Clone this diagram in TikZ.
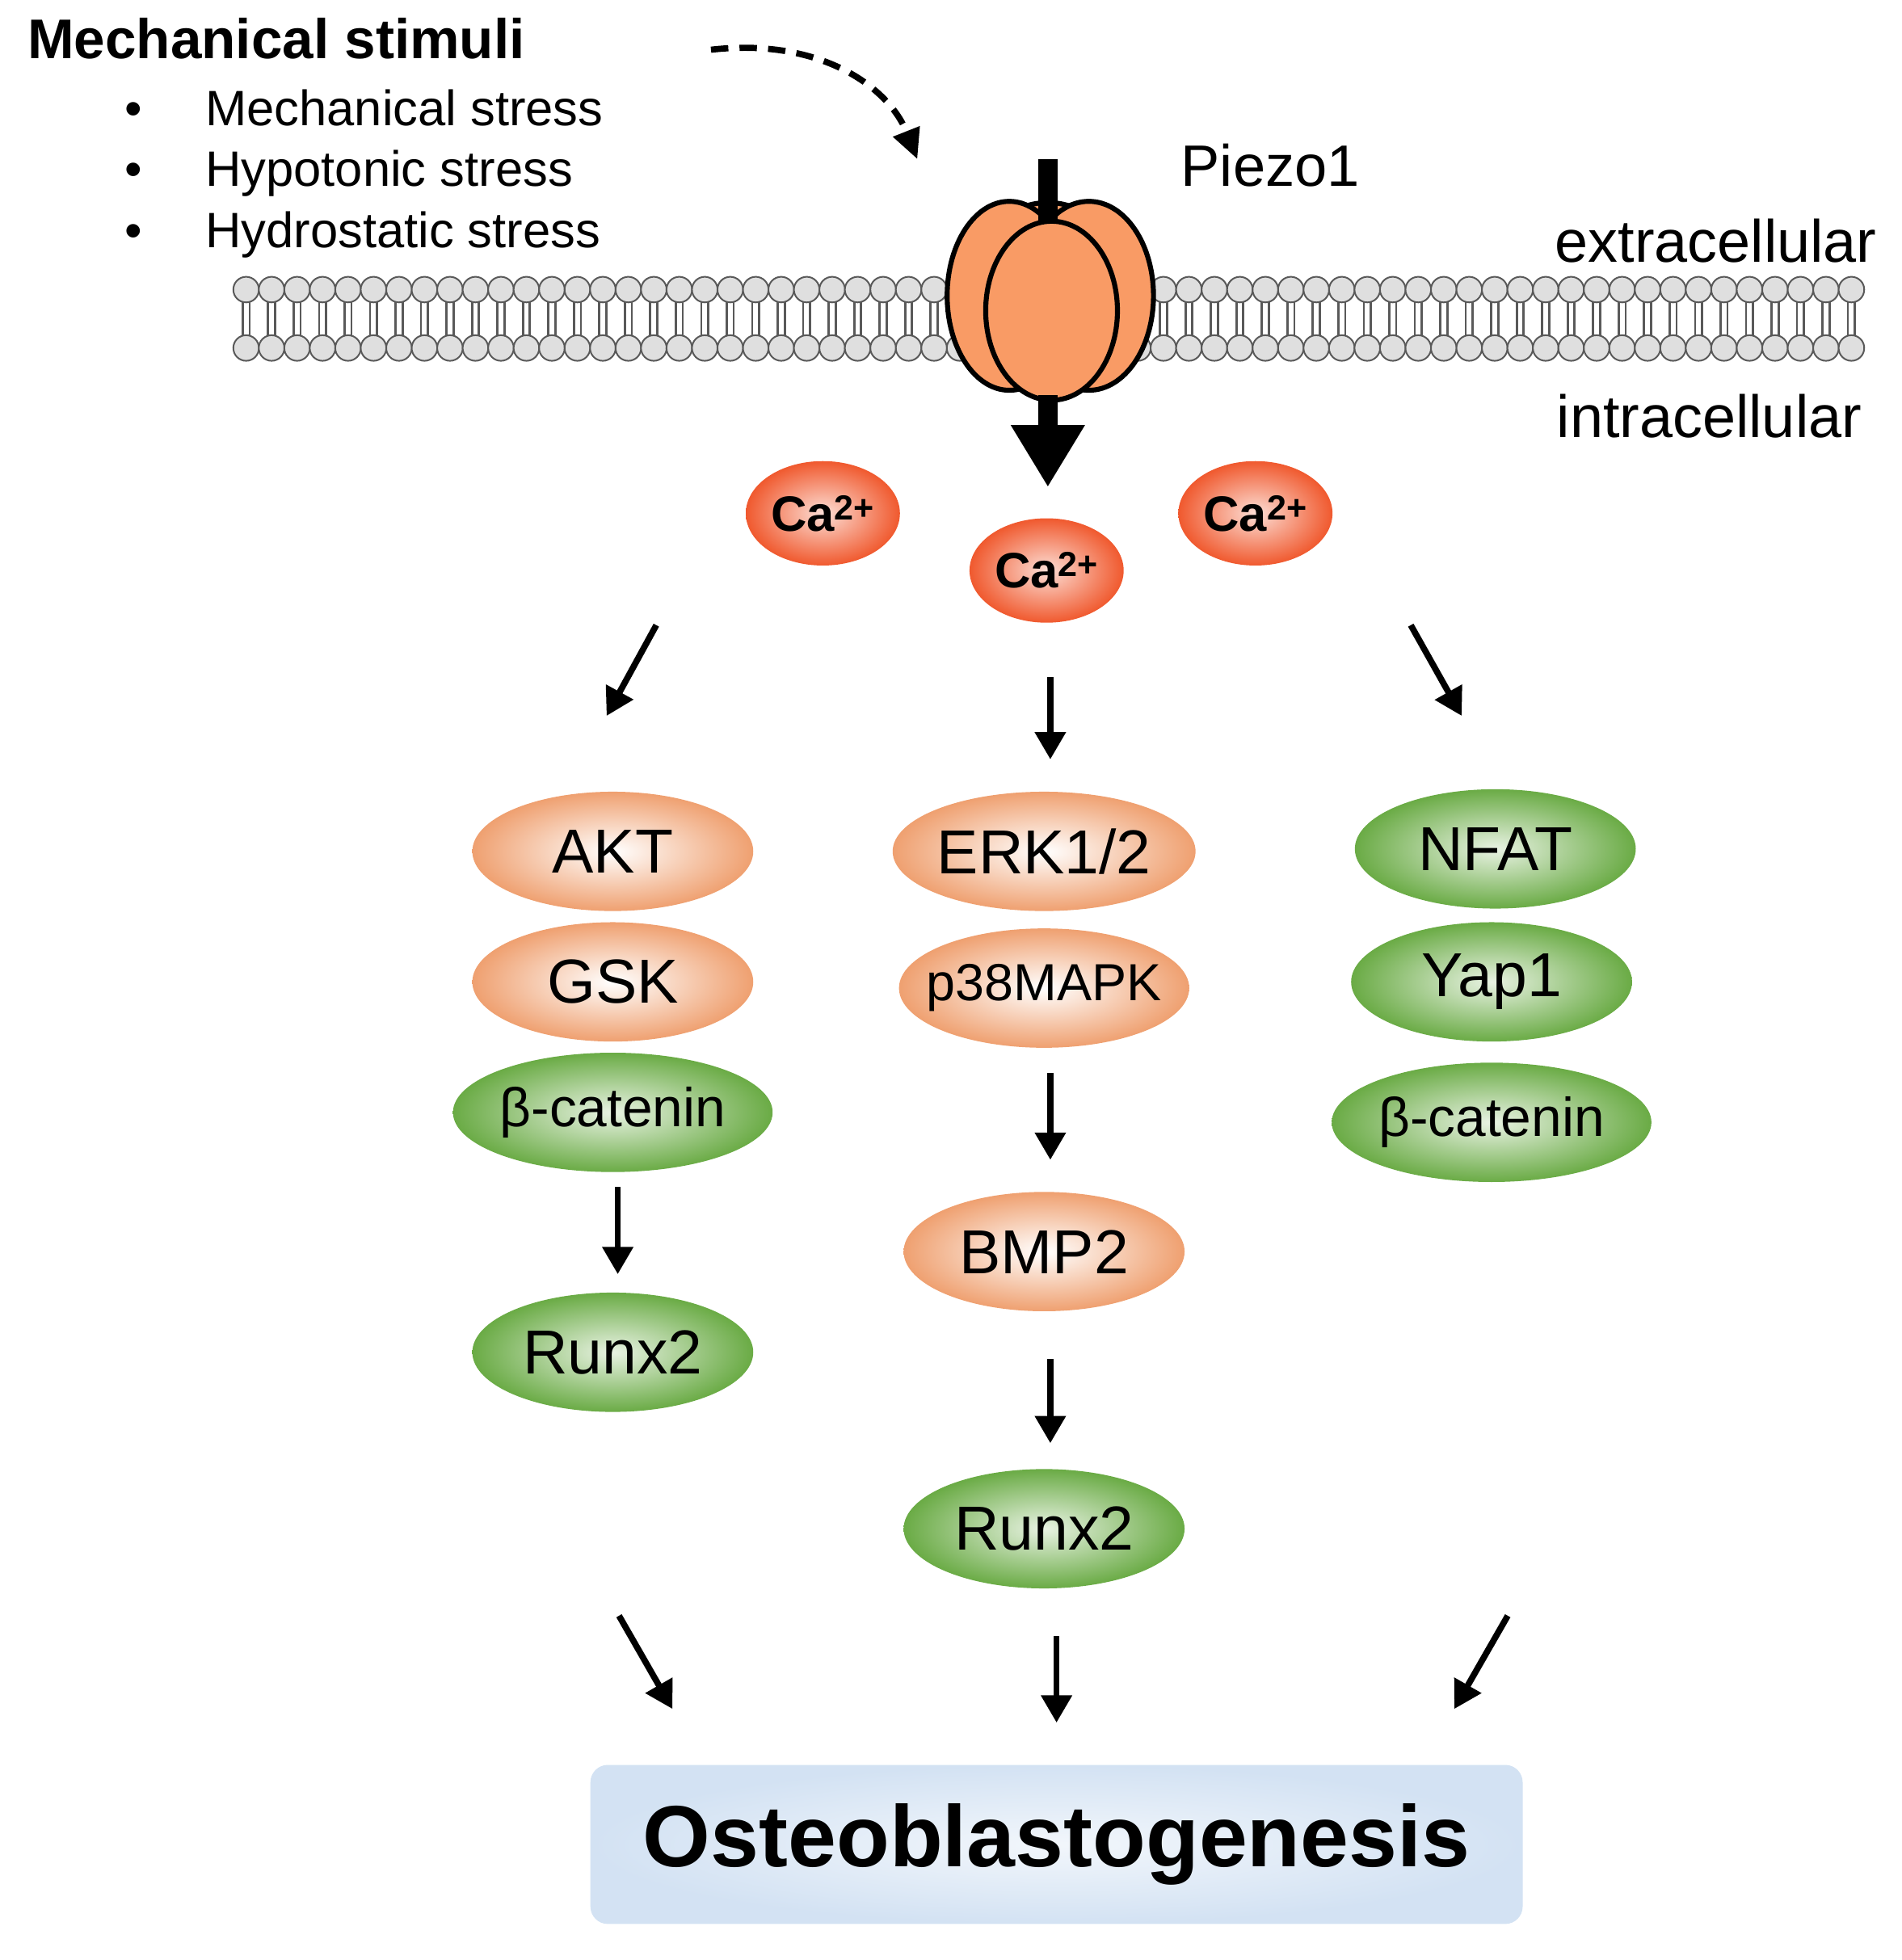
\documentclass[tikz,border=0pt]{standalone}
\usepackage{fontspec}
\setmainfont{Liberation Sans}
\usetikzlibrary{arrows.meta,shapes.geometric}
\definecolor{org}{HTML}{EFA070}
\definecolor{grn}{HTML}{6AAB45}
\definecolor{caR}{HTML}{F0592E}
\definecolor{chan}{HTML}{F99B65}
\definecolor{boxB}{HTML}{D3E2F3}
\tikzset{
 prot/.style={ellipse,minimum width=226pt,minimum height=96pt,inner sep=0pt,font=\fontsize{50}{50}\selectfont},
 po/.style={prot,inner color=white,outer color=org},
 pg/.style={prot,inner color=white!85!grn,outer color=grn},
 ca/.style={ellipse,minimum width=124pt,minimum height=84pt,inner sep=0pt,inner color=white!80!caR,outer color=caR,font=\bfseries\fontsize{40}{40}\selectfont},
 arr/.style={line width=5pt,-{Triangle[length=22pt,width=24pt]}},
 lbl/.style={anchor=base west,inner sep=0pt,font=\fontsize{40}{40}\selectfont},
}
\begin{document}
\begin{tikzpicture}[x=1pt,y=-1pt]
\useasboundingbox (0,0) rectangle (1530,1577);
% text
\node[lbl,font=\bfseries\fontsize{45}{45}\selectfont] (ms) at (22,47) {Mechanical stimuli};
\foreach \t [count=\i] in {Mechanical stress,Hypotonic stress,Hydrostatic stress}{
  \node[lbl] (b\i) at (100,{52+\i*49}) {\textbullet};
  \node[lbl] (i\i) at (165,{52+\i*49}) {\t};}
\node[lbl,font=\fontsize{47}{47}\selectfont] (piezo) at (950,150) {Piezo1};
\node[anchor=base east,inner sep=0pt,font=\fontsize{48}{48}\selectfont] (ext) at (1510,211) {extracellular};
\node[anchor=base east,inner sep=0pt,font=\fontsize{48}{48}\selectfont] (int) at (1498,352) {intracellular};
% dashed arrow
\coordinate (d1) at (572,40); \coordinate (d2) at (738,128);
\draw[line width=5pt,dash pattern=on 14pt off 9pt,-{Triangle[length=24pt,width=22pt]}] (d1) .. controls (660,30) and (715,70) .. (d2);
% membrane
\foreach \x in {198,218.5,...,1490}{
  \draw[gray!70!black,line width=1.8pt] (\x-2.8,242)--(\x-2.8,271) (\x+2.8,242)--(\x+2.8,271);
  \draw[fill=gray!25,draw=gray!70!black,line width=1.3pt] (\x,233) circle (10.3) (\x,280) circle (10.3);}
% channel
\draw[fill=chan,line width=4pt] (843,180) ellipse (32 and 17);
\draw[fill=chan,line width=4pt] (812,238) ellipse (50 and 76);
\draw[fill=chan,line width=4pt] (876,238) ellipse (52 and 76);
\coordinate (s2) at (843,392);
\fill (835,128) rectangle (851,200);
\draw[fill=chan,line width=4pt] (846,250) ellipse (53 and 72);
\draw[line width=16pt,-{Triangle[length=50pt,width=56pt]}] (843,318) -- (s2);
% Ca
\node[ca] (ca1) at (662,413) {Ca\textsuperscript{2+}};
\node[ca] (ca2) at (842,459) {Ca\textsuperscript{2+}};
\node[ca] (ca3) at (1010,413) {Ca\textsuperscript{2+}};
% left column
\node[po] (akt) at (493,685) {AKT};
\node[po] (gsk) at (493,790) {GSK};
\node[pg,font=\fontsize{44}{44}\selectfont] (bc1) at (493,895) {β-catenin};
\node[pg] (rx1) at (493,1088) {Runx2};
% center
\node[po] (erk) at (840,685) {ERK1/2};
\node[po,font=\fontsize{42}{42}\selectfont,inner xsep=-12pt] (p38) at (840,795) {p38MAPK};
\node[po] (bmp) at (840,1007) {BMP2};
\node[pg] (rx2) at (840,1230) {Runx2};
% right
\node[pg] (nfat) at (1203,683) {NFAT};
\node[pg] (yap) at (1200,790) {Yap1};
\node[pg,font=\fontsize{44}{44}\selectfont] (bc2) at (1200,903) {β-catenin};
% box
\node[rounded corners=14pt,minimum width=750pt,minimum height=128pt,inner color=white!70!boxB,outer color=boxB,font=\bfseries\fontsize{70}{70}\selectfont] (ost) at (850,1484) {Osteoblastogenesis};
% arrows
\coordinate (a1) at (528,503); \coordinate (a2) at (488,576);
\coordinate (a3) at (845,545); \coordinate (a4) at (845,611);
\coordinate (a5) at (1135,503); \coordinate (a6) at (1176,576);
\draw[arr] (a1)--(a2); \draw[arr] (a3)--(a4); \draw[arr] (a5)--(a6);
\draw[arr] (bc1.south)++(4,12) coordinate (c1) -- ++(0,70) coordinate (c2);
\draw[arr] (p38.south)++(5,20) -- ++(0,70);
\draw[arr] (bmp.south)++(5,38) -- ++(0,68);
\coordinate (e1) at (498,1300); \coordinate (e2) at (541,1375);
\coordinate (e3) at (850,1316); \coordinate (e4) at (850,1386);
\coordinate (e5) at (1213,1300); \coordinate (e6) at (1170,1375);
\draw[arr] (e1)--(e2); \draw[arr] (e3)--(e4); \draw[arr] (e5)--(e6);
\end{tikzpicture}
\end{document}
